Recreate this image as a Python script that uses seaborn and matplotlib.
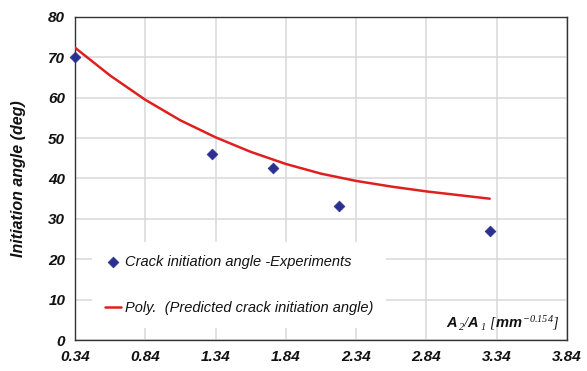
import matplotlib
matplotlib.use("Agg")
import matplotlib.pyplot as plt
import seaborn as sns
import pandas as pd

# Experimental data
exp_ratio = [0.34, 1.316, 1.75, 2.22, 3.29]
exp_angle = [70.0, 46.0, 42.5, 33.1, 27.0]

# Predicted curve
pred_ratio = [0.34, 0.59, 0.84, 1.09, 1.34, 1.59, 1.84, 2.09, 2.34, 2.59, 2.84, 3.09, 3.29]
pred_angle = [72.4, 65.5, 59.5, 54.4, 50.2, 46.6, 43.6, 41.2, 39.4, 38.0, 36.8, 35.8, 35.0]

x_ticks = [0.34, 0.84, 1.34, 1.84, 2.34, 2.84, 3.34, 3.84]
x_tick_labels = ["0.34", "0.84", "1.34", "1.84", "2.34", "2.84", "3.34", "3.84"]
y_ticks = [0, 10, 20, 30, 40, 50, 60, 70, 80]

label_exp = "Crack initiation angle -Experiments"
label_pred = "Poly.  (Predicted crack initiation angle)"

sns.set_style("white")
plt.rcParams["font.family"] = ["Liberation Sans", "DejaVu Sans"]
plt.rcParams["text.color"] = "#111111"
plt.rcParams["axes.labelcolor"] = "#111111"
plt.rcParams["xtick.color"] = "#111111"
plt.rcParams["ytick.color"] = "#111111"
plt.rcParams["mathtext.fontset"] = "custom"
plt.rcParams["mathtext.it"] = "Liberation Sans:italic:bold"
plt.rcParams["mathtext.rm"] = "Liberation Serif:italic"
plt.rcParams["mathtext.bf"] = "Liberation Sans:italic:bold"

df_exp = pd.DataFrame({"ratio": exp_ratio, "angle": exp_angle})
df_pred = pd.DataFrame({"ratio": pred_ratio, "angle": pred_angle})

fig = plt.figure(figsize=(5.87, 3.71), dpi=100)
ax = fig.add_axes([75 / 587, 31 / 371, 492 / 587, 323 / 371])

grid_c = "#D9D9D9"
ax.set_axisbelow(True)
ax.grid(True, color=grid_c, linewidth=1.1)

sns.lineplot(data=df_pred, x="ratio", y="angle", ax=ax, color="#E02020",
             linewidth=1.8, label=label_pred, zorder=3, sort=False)
sns.scatterplot(data=df_exp, x="ratio", y="angle", ax=ax, color="#2B2F8F",
                marker="D", s=30, edgecolor="#2B2F8F", linewidth=0.5,
                label=label_exp, zorder=4, clip_on=False)

ax.set_xlim(0.34, 3.84)
ax.set_ylim(0, 80)
ax.set_xticks(x_ticks)
ax.set_xticklabels(x_tick_labels)
ax.set_yticks(y_ticks)

for sp in ax.spines.values():
    sp.set_visible(True)
    sp.set_color("#333333")
    sp.set_linewidth(1.0)

ax.tick_params(axis="both", direction="out", length=4, width=1, color="#333333",
               labelsize=11, pad=3, labelcolor="#111111")
for lab in ax.get_xticklabels() + ax.get_yticklabels():
    lab.set_fontweight("bold")
    lab.set_fontstyle("italic")

ax.set_xlabel("")
ax.set_ylabel("Initiation angle (deg)", fontsize=11.5, fontweight="bold",
              fontstyle="italic", labelpad=16)

ax.text(0.985, 0.055, r"$A_{\,2}/A_{\,1}\ [mm^{\mathrm{-0.154}}]$", transform=ax.transAxes,
        ha="right", va="center", fontsize=10.5)

h, l = ax.get_legend_handles_labels()
order = [l.index(label_exp), l.index(label_pred)]
leg = ax.legend([h[i] for i in order], [l[i] for i in order],
                loc="lower left", bbox_to_anchor=(0.02, 0.015),
                frameon=True, facecolor="white", edgecolor="none", framealpha=1,
                fancybox=False, handlelength=1.1, handletextpad=0.25,
                labelspacing=2.2, borderpad=0.9, prop={"size": 10.5, "style": "italic"})
leg.set_zorder(5)

fig.savefig("out.png", dpi=100)
